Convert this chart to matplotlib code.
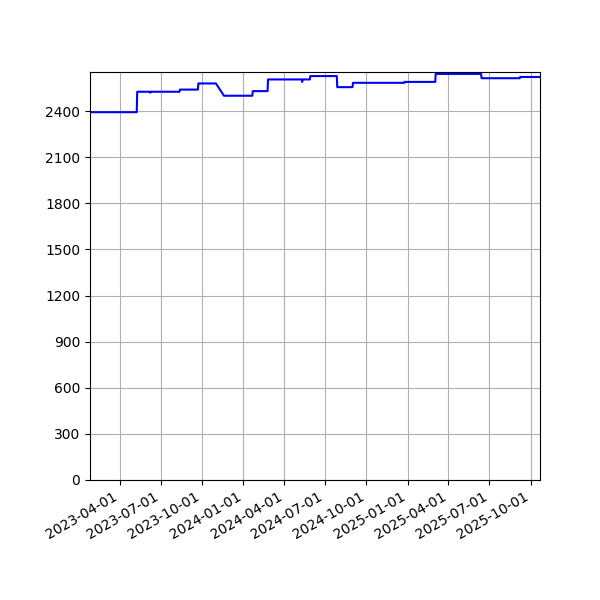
import pandas as pd
import matplotlib
matplotlib.use("Agg")
import matplotlib.pyplot as plt
import matplotlib.dates as mdates
from matplotlib.ticker import MultipleLocator

# points (start / end of each level)
dates = [
    "2023-01-25", "2023-05-09", "2023-05-10", "2023-06-07", "2023-06-08",
    "2023-06-09", "2023-08-12", "2023-08-13", "2023-09-22", "2023-09-23",
    "2023-11-01", "2023-11-19", "2024-01-21", "2024-01-22", "2024-02-24",
    "2024-02-25", "2024-05-10", "2024-05-11", "2024-05-12", "2024-05-28",
    "2024-05-29", "2024-07-27", "2024-07-28", "2024-08-31", "2024-09-01",
    "2024-12-24", "2024-12-25", "2025-03-03", "2025-03-04", "2025-06-13",
    "2025-06-14", "2025-09-07", "2025-09-08", "2025-10-22",
]
values = [
    2393, 2393, 2526, 2526, 2520,
    2526, 2526, 2540, 2540, 2580,
    2580, 2500, 2500, 2530, 2530,
    2606, 2606, 2590, 2606, 2606,
    2628, 2628, 2556, 2556, 2584,
    2584, 2590, 2590, 2642, 2642,
    2614, 2614, 2622, 2622,
]

x = pd.to_datetime(dates)

fig, ax = plt.subplots(figsize=(6, 6), dpi=100)
ax.plot(x, values, color="blue")
ax.set_xlim(x[0], x[-1])
ax.set_ylim(bottom=0)
ax.yaxis.set_major_locator(MultipleLocator(300))
ax.xaxis.set_major_locator(mdates.MonthLocator(bymonth=[1, 4, 7, 10]))
ax.xaxis.set_major_formatter(mdates.DateFormatter("%Y-%m-%d"))
ax.grid(True)
fig.autofmt_xdate()
fig.subplots_adjust(left=0.15)

fig.savefig("out.png")
